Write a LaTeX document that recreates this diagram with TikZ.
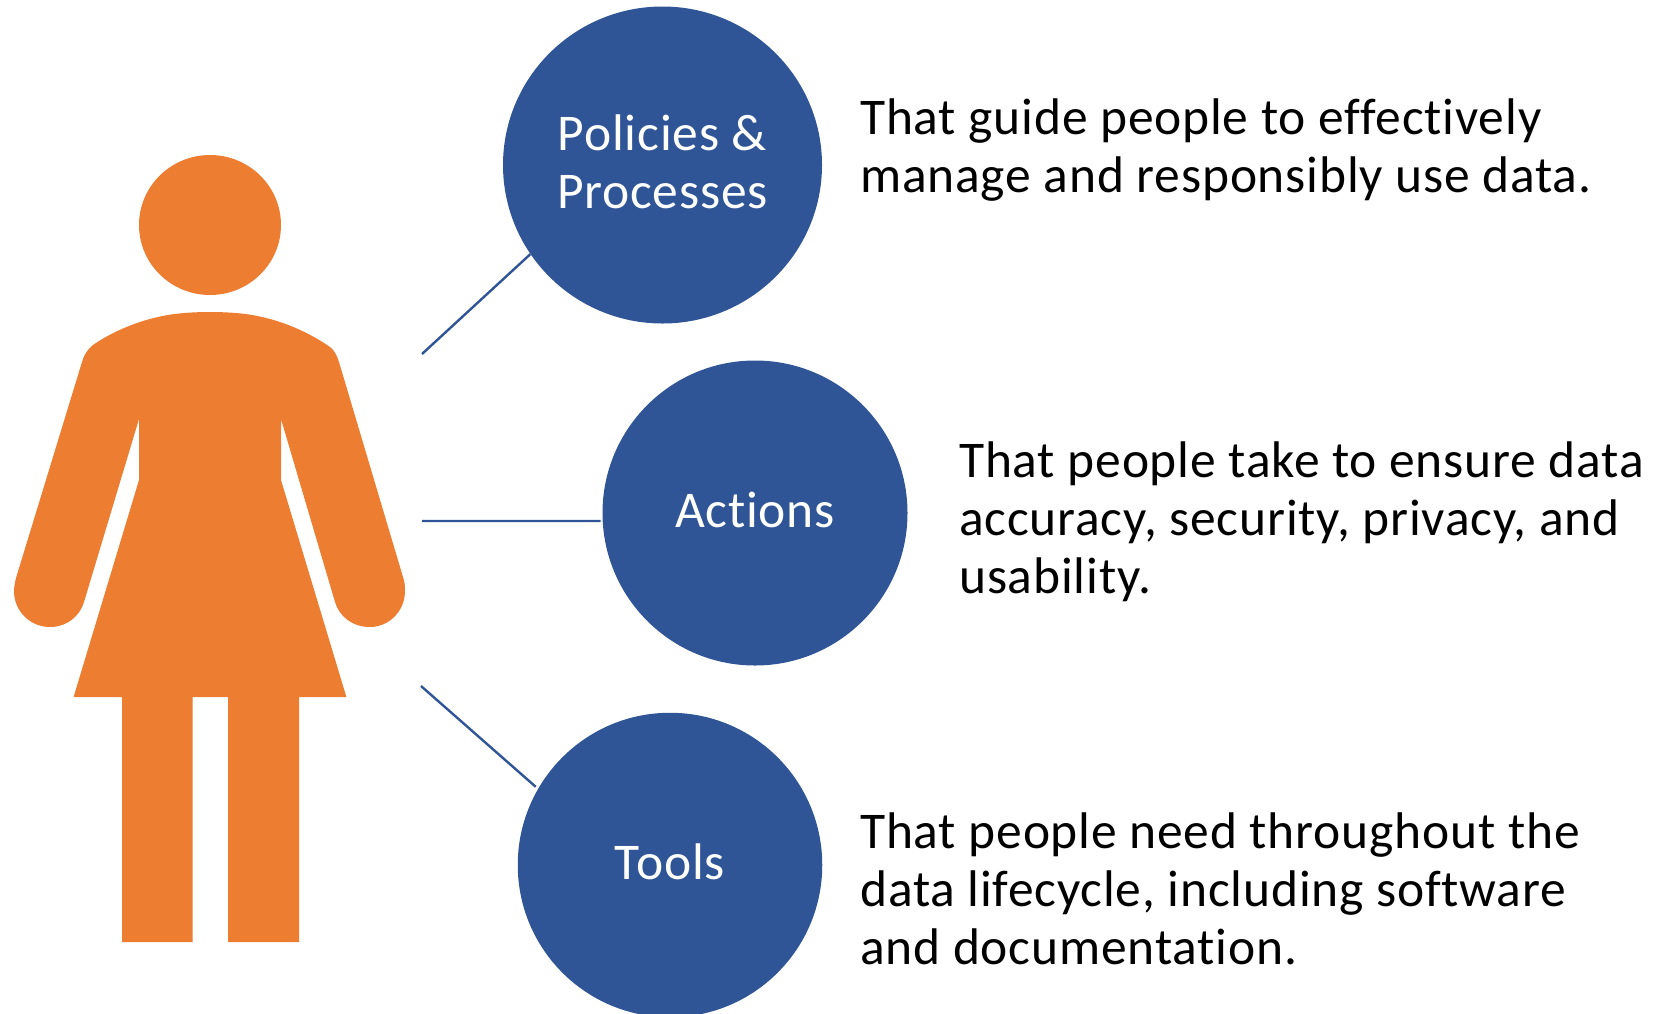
\documentclass[tikz,border=0pt]{standalone}
\usepackage{fontspec}
\usetikzlibrary{shapes.geometric}
\setmainfont[LetterSpace=1.6,Ligatures=NoCommon]{Carlito}
\definecolor{fig}{HTML}{ED7D31}
\definecolor{blu}{HTML}{2F5597}
\tikzset{
 x=1pt,y=-1pt,
 disc/.style={ellipse,fill=blu,text=white,inner sep=0pt,align=center,text depth=7pt,font=\fontsize{51.5}{58}\selectfont},
 note/.style={anchor=base west,inner sep=0pt,align=left,text=black,font=\fontsize{51.5}{58}\selectfont},
 link/.style={draw=blu,line width=2.4pt},
}
\begin{document}
\begin{tikzpicture}
\useasboundingbox (0,0) rectangle (1680,1013);
% figure
\fill[fig] (210,225) ellipse [x radius=71,y radius=70];
\fill[fig] (210,312) .. controls (232,312) and (250,314) .. (262,317)
 .. controls (285,322) and (310,333) .. (330,347)
 .. controls (335,351) and (337,356) .. (339,362)
 -- (403,577) .. controls (405,583) and (405,587) .. (405,591)
 .. controls (405,611) and (389,627) .. (370,627)
 .. controls (352,627) and (339,616) .. (335,602)
 -- (281,419) -- (281,480) -- (346.4,697) -- (299,697) -- (299,942) -- (228,942) -- (228,697)
 -- (192.5,697) -- (192.5,942) -- (122,942) -- (122,697) -- (73.6,697) -- (139,480) -- (139,419)
 -- (84,602) .. controls (80,616) and (67,627) .. (50,627)
 .. controls (30,627) and (14,611) .. (14,591)
 .. controls (14,587) and (15,582) .. (16,578)
 -- (82,362) .. controls (84,355) and (87,350) .. (93,345)
 .. controls (110,333) and (135,322) .. (158,317)
 .. controls (170,314) and (188,312) .. (210,312) -- cycle;
% circles
\node[disc,minimum width=319pt,minimum height=317pt] (d1) at (662.5,165) {Policies \&\\Processes};
\node[disc,minimum width=305pt,minimum height=305pt] (d2) at (755,513) {Actions};
\node[disc,minimum width=304.5pt,minimum height=304.5pt] (d3) at (670,865) {Tools};
% connector ends
\coordinate (p1) at (422,354);
\coordinate (p2) at (422,521);
\coordinate (p3) at (421,686);
\draw[link] (p1) -- (d1.214.5);
\draw[link,shorten >=2pt] (p2) -- (d2.183);
\draw[link,shorten >=3pt] (p3) -- (d3.150.8);
% notes
\node[note] (n1) at (860,192.7) {That guide people to effectively\\manage and responsibly use data.};
\node[note] (n2) at (959,593) {That people take to ensure data\\accuracy, security, privacy, and\\usability.};
\node[note] (n3) at (860,964) {That people need throughout the\\data lifecycle, including software\\and documentation.};
\end{tikzpicture}
\end{document}
